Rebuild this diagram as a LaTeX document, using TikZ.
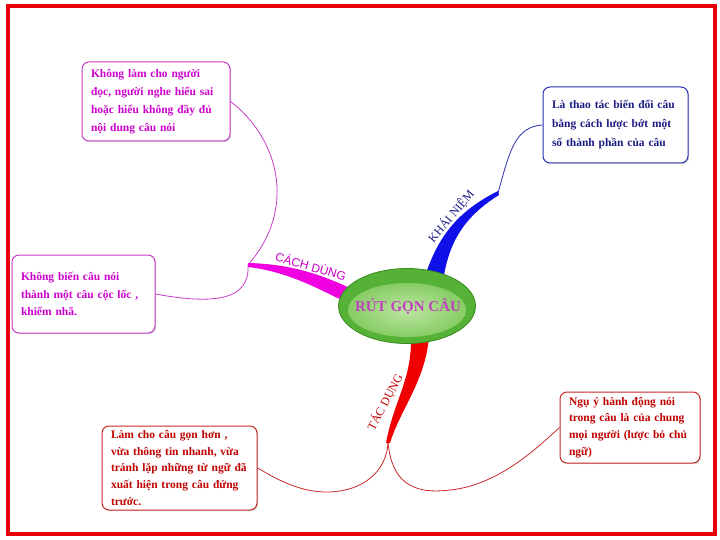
\documentclass[tikz,border=0pt]{standalone}
\usepackage{fontspec}
\setmainfont{Liberation Serif}
\setsansfont{Liberation Sans}
\usetikzlibrary{shadows,shapes.geometric}
\definecolor{frameRed}{HTML}{E8000A}
\definecolor{magTxt}{HTML}{CC00CC}
\definecolor{magLine}{HTML}{C83CC8}
\definecolor{magBr}{HTML}{F000E0}
\definecolor{bluTxt}{HTML}{1C1C84}
\definecolor{bluLine}{HTML}{2A30B0}
\definecolor{bluBr}{HTML}{1010E8}
\definecolor{redTxt}{HTML}{C00000}
\definecolor{redLine}{HTML}{C82828}
\definecolor{redBr}{HTML}{F00000}
\definecolor{gDark}{HTML}{3A8A20}
\definecolor{gOuter}{HTML}{56B236}
\definecolor{gMid}{HTML}{86CC64}
\definecolor{gLight}{HTML}{BDE6A2}
\definecolor{ctrTxt}{HTML}{C040C0}
\tikzset{
  box/.style={draw, rounded corners=7pt, line width=1pt, fill=white, align=left,
    inner xsep=9pt, inner ysep=4pt,
    drop shadow={shadow xshift=1.2pt, shadow yshift=-1.2pt, opacity=0.3}},
  thinline/.style={line width=0.8pt},
  brlabel/.style={inner sep=0pt}
}
\begin{document}
\begin{tikzpicture}[x=1pt,y=-1pt]
\useasboundingbox (0,0) rectangle (720,540);
\fill[white] (0,0) rectangle (720,540);
\draw[frameRed, line width=4.2pt] (8,6) rectangle (715,534);

% junctions
\coordinate (jb) at (498,193);
\coordinate (jm) at (248,265);
\coordinate (jr) at (388,443);

% boxes
\node[box, draw=magLine, text=magTxt, text width=130pt, minimum height=79pt,
  font=\bfseries\fontsize{11.5}{18}\selectfont] (tl) at (156,101.5)
  {Không làm cho người\\đọc, người nghe hiểu sai\\hoặc hiểu không đầy đủ\\nội dung câu nói};
\node[box, draw=bluLine, text=bluTxt, text width=127pt, minimum height=76pt,
  font=\bfseries\fontsize{11.5}{19}\selectfont] (tr) at (615.5,125)
  {Là thao tác biến đổi câu\\bằng cách lược bớt một\\số thành phần của câu};
\node[box, draw=magLine, text=magTxt, text width=125pt, minimum height=78pt,
  font=\bfseries\fontsize{11.5}{17.5}\selectfont] (lf) at (83.5,294)
  {Không biến câu nói\\thành một câu cộc lốc ,\\khiếm nhã.};
\node[box, draw=redLine, text=redTxt, text width=137pt, minimum height=84pt,
  font=\bfseries\fontsize{11.5}{16.8}\selectfont] (bl) at (179.5,468)
  {Làm cho câu gọn hơn ,\\vừa thông tin nhanh, vừa\\tránh lặp những từ ngữ đã\\xuất hiện trong câu đứng\\trước.};
\node[box, draw=redLine, text=redTxt, text width=122pt, minimum height=71pt,
  font=\bfseries\fontsize{11.5}{16.8}\selectfont] (br) at (630,427.5)
  {Ngụ ý hành động nói\\trong câu là của chung\\mọi người (lược bỏ chủ\\ngữ)};

% thin connectors
\draw[thinline, bluLine] (jb) .. controls (510,150) and (515,127) .. (tr.west);
\draw[thinline, magLine] (tl.east) .. controls (275,135) and (300,205) .. (jm);
\draw[thinline, magLine] (jm) .. controls (250,300) and (215,305) .. (lf.east);
\draw[thinline, redLine] (jr) .. controls (385,485) and (340,500) .. (300,488)
  .. controls (280,482) and (265,472) .. (bl.east);
\draw[thinline, redLine] (jr) .. controls (392,480) and (410,495) .. (450,490)
  .. controls (500,485) and (540,445) .. (br.west);

% thick branches
\fill[bluBr] (423,282) .. controls (435,245) and (450,215) .. (498,191)
  -- (499,195) .. controls (462,218) and (448,245) .. (443,282) -- cycle;
\fill[magBr] (248,263) .. controls (290,264) and (320,274) .. (352,289)
  -- (350,304) .. controls (320,290) and (290,272) .. (248,267) -- cycle;
\fill[redBr] (429,336) .. controls (426,380) and (400,410) .. (390,443)
  -- (386,443) .. controls (394,400) and (412,380) .. (411,336) -- cycle;

% center
\node[ellipse, minimum width=137pt, minimum height=75pt, inner sep=0pt,
  fill=gOuter, draw=gDark, line width=0.8pt] (c) at (407,306) {};
\node[ellipse, minimum width=118pt, minimum height=54pt, inner sep=0pt,
  inner color=gLight, outer color=gMid] (ci) at (407,310) {};
\node[text=ctrTxt, font=\bfseries\fontsize{15}{17}\selectfont] (ct) at (408,306) {RÚT GỌN CÂU};

% branch labels
\node[brlabel, text=bluTxt, rotate=50, font=\fontsize{12}{14}\selectfont] (lb) at (451,216) {KHÁI NIỆM};
\node[brlabel, text=magTxt, rotate=-16, font=\sffamily\fontsize{12}{14}\selectfont] (lm) at (311,266) {CÁCH DÙNG};
\node[brlabel, text=redTxt, rotate=62, font=\fontsize{12}{14}\selectfont] (lr) at (385,402) {TÁC DỤNG};
\end{tikzpicture}
\end{document}
